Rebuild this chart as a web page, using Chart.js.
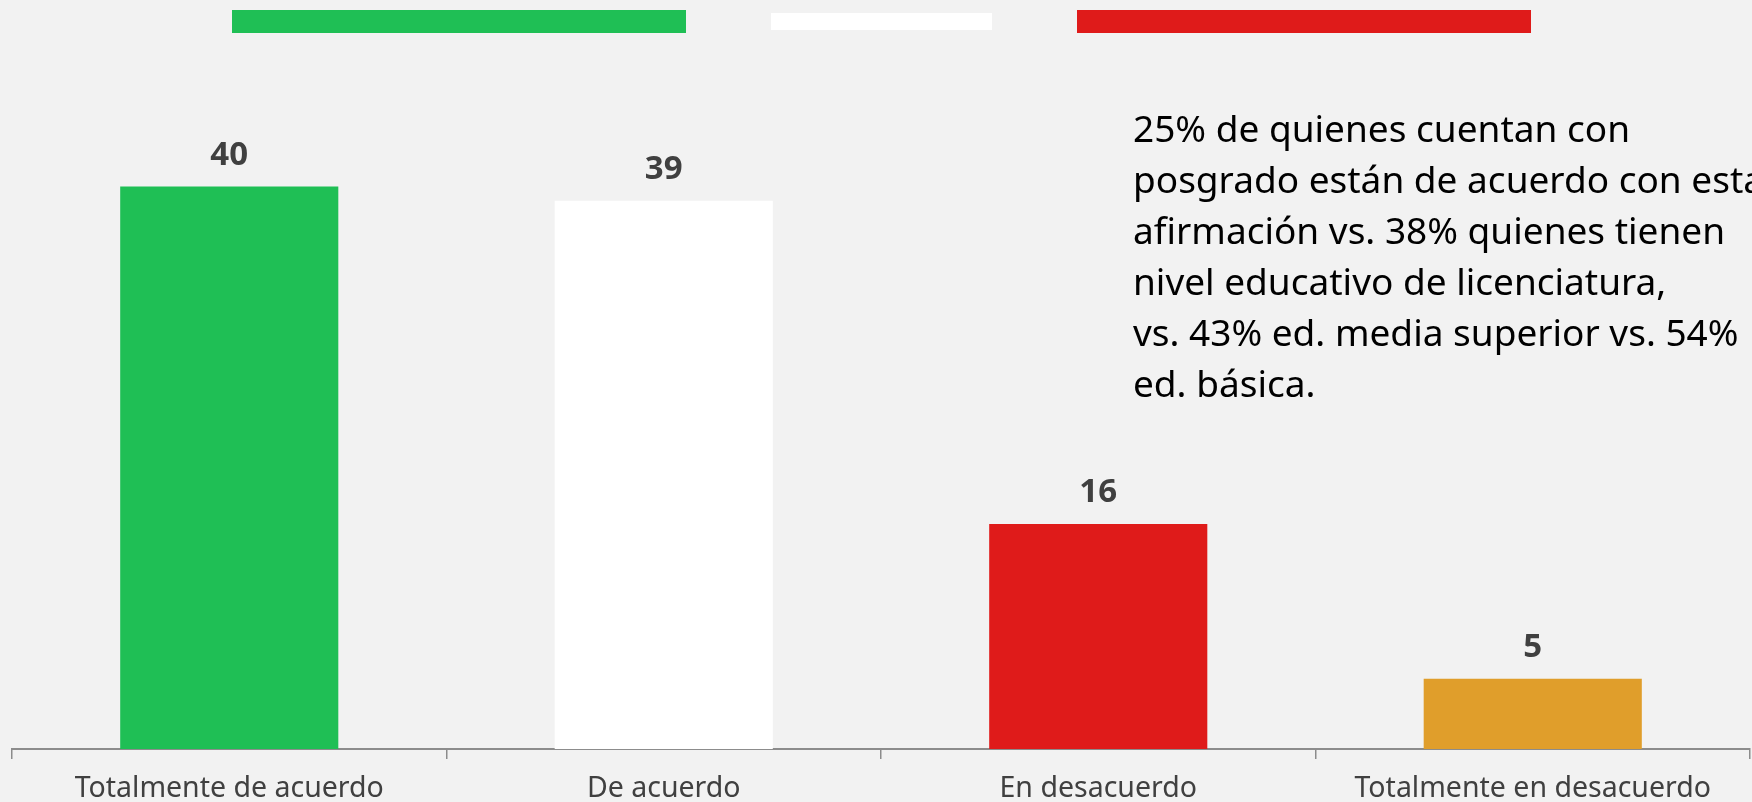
<!DOCTYPE html>
<html lang="es">
<head>
<meta charset="utf-8">
<title>Nivel de acuerdo</title>
<script src="https://cdn.jsdelivr.net/npm/chart.js@4.4.0/dist/chart.umd.min.js"></script>
<style>
    html, body { margin: 0; padding: 0; background: #f2f2f2; }
    #contenedor { position: relative; width: 1752px; height: 802px; overflow: hidden; }
    .franja { position: absolute; }
</style>
</head>
<body>
<div id="contenedor">
    <div class="franja" style="left:232px; top:10px; width:454px; height:23px; background:#1fbf55;"></div>
    <div class="franja" style="left:771px; top:13px; width:221px; height:17px; background:#ffffff;"></div>
    <div class="franja" style="left:1077px; top:10px; width:454px; height:23px; background:#df1b1a;"></div>
    <canvas id="grafica"></canvas>
</div>
<script>
const categorias = ['Totalmente de acuerdo', 'De acuerdo', 'En desacuerdo', 'Totalmente en desacuerdo'];
const valores = [40, 39, 16, 5];
const colores = ['#1fbf55', '#ffffff', '#df1b1a', '#e09e2b'];

const notaLineas = [
    '25% de quienes cuentan con',
    'posgrado están de acuerdo con esta',
    'afirmación vs. 38% quienes tienen',
    'nivel educativo de licenciatura,',
    'vs. 43% ed. media superior vs. 54%',
    'ed. básica.'
];

// etiquetas de valor encima de cada barra
const etiquetasValor = {
    id: 'etiquetasValor',
    afterDatasetsDraw(chart) {
        const ctx = chart.ctx;
        const meta = chart.getDatasetMeta(0);
        ctx.save();
        ctx.font = 'bold 33px "Noto Sans"';
        ctx.fillStyle = '#404040';
        ctx.textAlign = 'center';
        ctx.textBaseline = 'alphabetic';
        meta.data.forEach((barra, i) => {
            ctx.fillText(valores[i], barra.x, barra.y - 22);
        });
        ctx.restore();
    }
};

// texto explicativo a la derecha
const notaTexto = {
    id: 'notaTexto',
    afterDraw(chart) {
        const ctx = chart.ctx;
        ctx.save();
        ctx.font = '37px "Noto Sans"';
        ctx.fillStyle = '#000000';
        ctx.textAlign = 'left';
        ctx.textBaseline = 'alphabetic';
        notaLineas.forEach((linea, i) => {
            ctx.fillText(linea, 1133, 142 + i * 51);
        });
        ctx.restore();
    }
};

const ctx = document.getElementById('grafica').getContext('2d');
new Chart(ctx, {
    type: 'bar',
    data: {
        labels: categorias,
        datasets: [{
            data: valores,
            backgroundColor: colores,
            borderWidth: 0,
            barPercentage: 0.502,
            categoryPercentage: 1
        }]
    },
    options: {
        responsive: true,
        maintainAspectRatio: false,
        animation: false,
        layout: { padding: { top: 46, left: 12, right: 2, bottom: 0 } },
        plugins: {
            legend: { display: false },
            tooltip: { enabled: false }
        },
        scales: {
            x: {
                grid: {
                    display: true,
                    drawOnChartArea: false,
                    drawTicks: true,
                    tickLength: 10,
                    color: '#8c8c8c',
                    lineWidth: 1.5
                },
                border: { color: '#8c8c8c', width: 2 },
                ticks: {
                    color: '#404040',
                    font: { family: '"Noto Sans"', size: 28.5 },
                    padding: 13,
                    maxRotation: 0,
                    autoSkip: false
                },
                afterFit(scale) { scale.height = 53; }
            },
            y: {
                display: false,
                min: 0,
                max: 50
            }
        }
    },
    plugins: [etiquetasValor, notaTexto]
});
</script>
</body>
</html>
